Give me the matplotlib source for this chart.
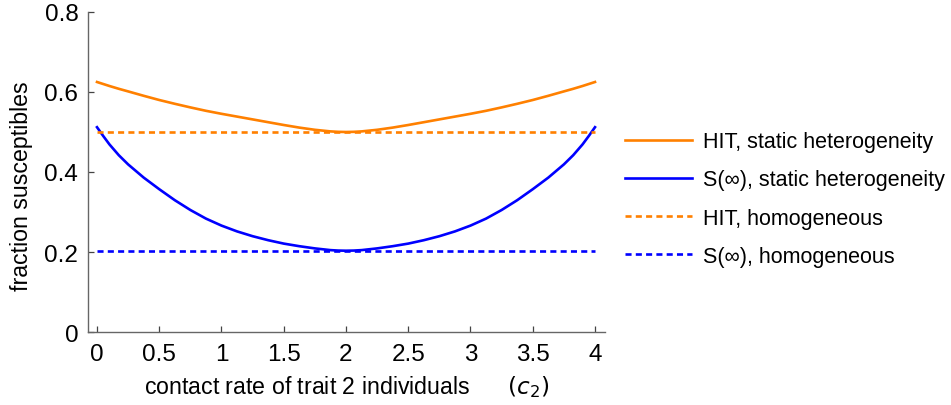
import matplotlib
matplotlib.use("Agg")
import matplotlib.pyplot as plt

plt.rcParams['font.family'] = ['Liberation Sans', 'DejaVu Sans']
plt.rcParams['mathtext.fontset'] = 'dejavusans'

# values (curves are symmetric about c2 = 2)
c2 = [0, 0.05, 0.1, 0.175, 0.25, 0.375, 0.5, 0.625, 0.75, 0.875, 1,
      1.125, 1.25, 1.375, 1.5, 1.625, 1.75, 1.875, 1.9375, 2,
      2.0625, 2.125, 2.25, 2.375, 2.5, 2.625, 2.75, 2.875, 3,
      3.125, 3.25, 3.375, 3.5, 3.625, 3.75, 3.825, 3.9, 3.95, 4]
hit_static = [0.625, 0.620, 0.615, 0.608, 0.6015, 0.5905, 0.580, 0.5705, 0.5615, 0.553, 0.5455,
              0.5385, 0.5315, 0.5245, 0.5175, 0.511, 0.5055, 0.5015, 0.5004, 0.500,
              0.5004, 0.5015, 0.5055, 0.511, 0.5175, 0.5245, 0.5315, 0.5385, 0.5455,
              0.553, 0.5615, 0.5705, 0.580, 0.5905, 0.6015, 0.608, 0.615, 0.620, 0.625]
sinf_static = [0.512, 0.490, 0.469, 0.442, 0.419, 0.386, 0.357, 0.3295, 0.305, 0.2835, 0.266,
               0.2515, 0.2395, 0.2295, 0.221, 0.2145, 0.209, 0.2047, 0.2036, 0.2032,
               0.2036, 0.2047, 0.209, 0.2145, 0.221, 0.2295, 0.2395, 0.2515, 0.266,
               0.2835, 0.305, 0.3295, 0.357, 0.386, 0.419, 0.442, 0.469, 0.490, 0.512]
hit_homog = 0.5
sinf_homog = 0.2032

xticks = [0, 0.5, 1, 1.5, 2, 2.5, 3, 3.5, 4]
xticklabels = ['0', '0.5', '1', '1.5', '2', '2.5', '3', '3.5', '4']
yticks = [0, 0.2, 0.4, 0.6, 0.8]
yticklabels = ['0', '0.2', '0.4', '0.6', '0.8']

orange = '#ff8000'
blue = '#0000ff'

fig = plt.figure(figsize=(9.51, 4.06), dpi=100)
ax = fig.add_axes([88/951, 1 - 333/406, (605 - 88)/951, (333 - 13)/406])

lw = 1.9
ax.plot(c2, hit_static, color=orange, lw=lw, label='HIT, static heterogeneity')
ax.plot(c2, sinf_static, color=blue, lw=lw, label='S(∞), static heterogeneity')
ax.plot([c2[0], c2[-1]], [hit_homog, hit_homog], color=orange, lw=lw,
        dashes=(2.3, 1.6), label='HIT, homogeneous')
ax.plot([c2[0], c2[-1]], [sinf_homog, sinf_homog], color=blue, lw=lw,
        dashes=(2.3, 1.6), label='S(∞), homogeneous')

ax.set_xlim(-9/124.5, 4 + 10/124.5)
ax.set_ylim(0, 0.8)
ax.set_xticks(xticks)
ax.set_xticklabels(xticklabels)
ax.set_yticks(yticks)
ax.set_yticklabels(yticklabels)

for s in ['top', 'right']:
    ax.spines[s].set_visible(False)
for s in ['left', 'bottom']:
    ax.spines[s].set_color('#666666')
    ax.spines[s].set_linewidth(1.0)
ax.tick_params(direction='in', length=4.5, width=0.9, color='#444444', labelsize=17.5)
ax.tick_params(axis='x', pad=8)
ax.tick_params(axis='y', pad=7)

ax.set_xlabel('contact rate of trait 2 individuals      $(c_2)$', fontsize=16.7, labelpad=6)
ax.set_ylabel('fraction susceptibles', fontsize=16.7)
ax.yaxis.set_label_coords(-0.107, 0.458)

fs = 15.5
fig.legend(loc='center left', bbox_to_anchor=(625/951, 1 - 200/406),
           bbox_transform=fig.transFigure, frameon=False, fontsize=fs,
           handlelength=3.1, handletextpad=0.52, labelspacing=0.8,
           borderpad=0, borderaxespad=0)

fig.savefig('out.png', dpi=100)
